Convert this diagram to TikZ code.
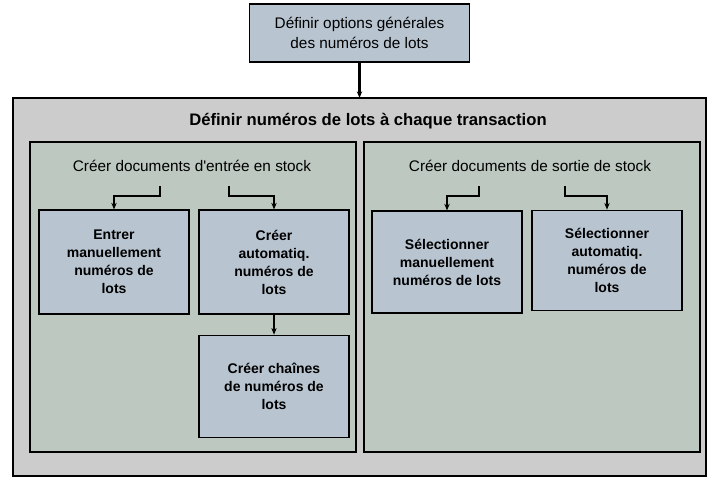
\documentclass[tikz,border=0pt]{standalone}
\usepackage{fontspec}
\setmainfont{Liberation Sans}
\usetikzlibrary{arrows.meta}
\definecolor{outerc}{HTML}{CCCCCC}
\definecolor{panelc}{HTML}{BCC8C0}
\definecolor{boxc}{HTML}{B8C4D0}
\begin{document}
\begin{tikzpicture}[x=0.75pt,y=-0.75pt,
  box/.style={draw=black,fill=boxc,line width=0.8pt,align=center,font=\bfseries\fontsize{10.5}{13.5}\selectfont,inner sep=0pt},
  conn/.style={line width=1.3pt,-{Stealth[length=5pt,width=4pt]}}]
\useasboundingbox (0,0) rectangle (720,489);
\fill[white] (0,0) rectangle (720,489);
\node[box,font=\fontsize{11.5}{15}\selectfont,minimum width=165pt,minimum height=43.5pt] (top) at (359.5,33) {Définir options générales\\des numéros de lots};
\draw[draw=black,fill=outerc,line width=1.2pt] (13,98) rectangle (706,476);
\node (outer) at (359.5,98) {};
\node[font=\bfseries\fontsize{12.5}{14}\selectfont] at (368,121) {Définir numéros de lots à chaque transaction};
\draw[draw=black,fill=panelc,line width=0.8pt] (30,142) rectangle (356,452);
\draw[draw=black,fill=panelc,line width=0.8pt] (364,142) rectangle (700,452);
\node[font=\fontsize{11.5}{13}\selectfont] at (192,166) {Créer documents d\textquotesingle entrée en stock};
\node[font=\fontsize{11.5}{13}\selectfont] at (530,166) {Créer documents de sortie de stock};
\node[box,minimum width=112.5pt,minimum height=78pt] (l1) at (114,262) {Entrer\\manuellement\\numéros de\\lots};
\node[box,minimum width=112.5pt,minimum height=78pt] (l2) at (274,262) {Créer\\automatiq.\\numéros de\\lots};
\node[box,minimum width=112.5pt,minimum height=77pt] (l3) at (274,386.5) {Créer chaînes\\de numéros de\\lots};
\node[box,minimum width=112.5pt,minimum height=76.5pt] (r1) at (447,262) {Sélectionner\\manuellement\\numéros de lots};
\node[box,minimum width=112.5pt,minimum height=75.5pt] (r2) at (607,260.5) {Sélectionner\\automatiq.\\numéros de\\lots};
\draw[conn,line width=1.6pt] (top.south) -- (outer.center);
\coordinate (a1) at (160,186); \coordinate (a2) at (229,186);
\coordinate (b1) at (479,186); \coordinate (b2) at (565,186);
\draw[conn] (a1) |- (114,196) -- (l1.north);
\draw[conn] (a2) |- (274,196) -- (l2.north);
\draw[conn] (b1) |- (447,196) -- (r1.north);
\draw[conn] (b2) |- (607,196) -- (r2.north);
\draw[conn] (l2.south) -- (l3.north);
\end{tikzpicture}
\end{document}
